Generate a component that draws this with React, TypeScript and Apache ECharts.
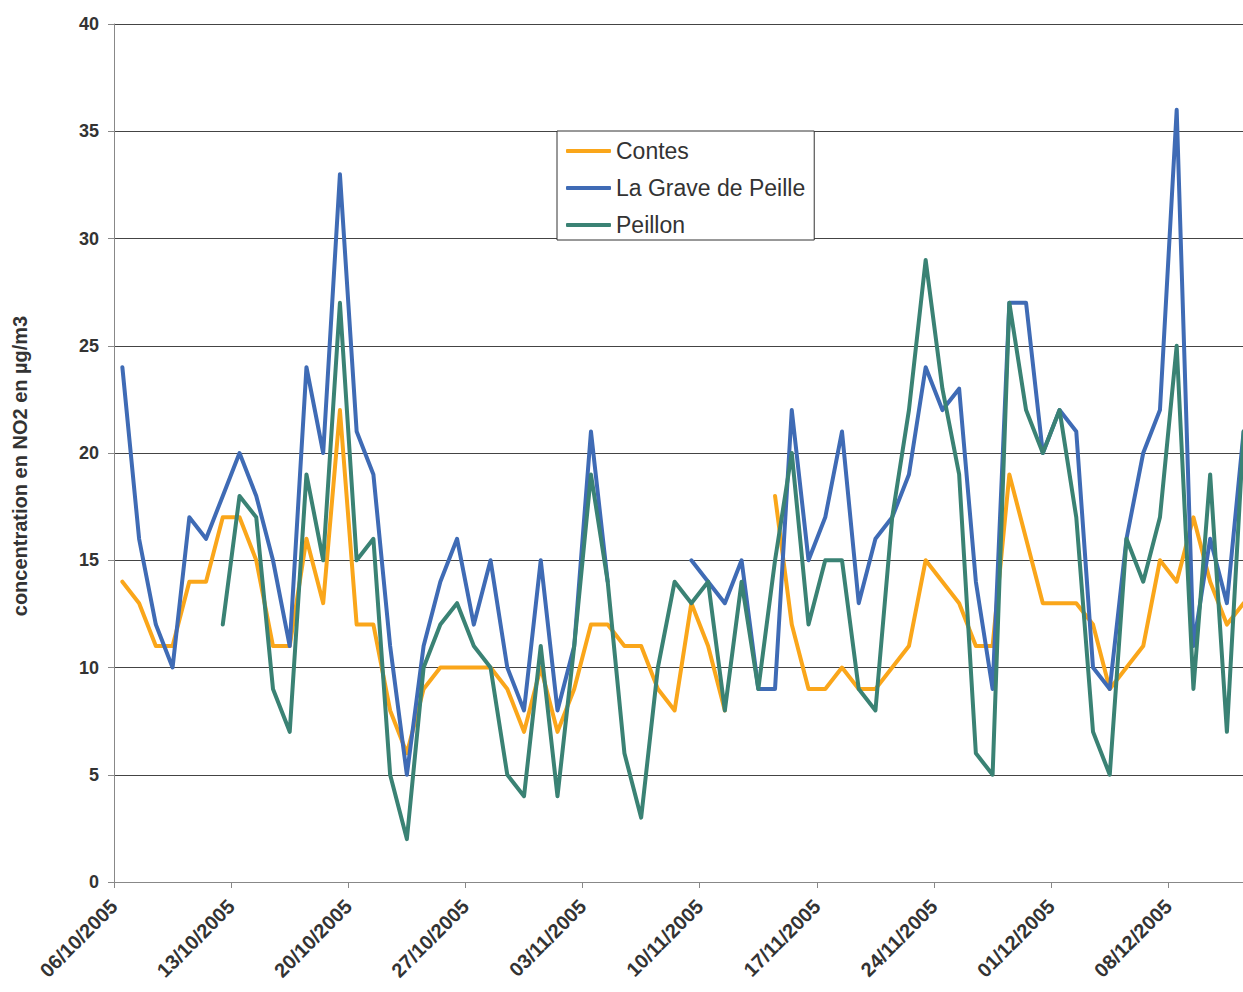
import React, { useEffect, useRef } from "react";
import * as echarts from "echarts";

// Weekly tick labels (one every 7 days, starting 06/10/2005)
const tickLabels = [
  "06/10/2005", "13/10/2005", "20/10/2005", "27/10/2005", "03/11/2005",
  "10/11/2005", "17/11/2005", "24/11/2005", "01/12/2005", "08/12/2005",
];

// Daily NO2 concentrations (µg/m3), 06/10/2005 .. 12/12/2005 (68 days)
const contes = [
  14, 13, 11, 11, 14, 14, 17, 17, 15, 11, 11, 16, 13, 22, 12, 12, 8, 6, 9, 10,
  10, 10, 10, 9, 7, 10, 7, 9, 12, 12, 11, 11, 9, 8, 13, 11, 8, null, null, 18,
  12, 9, 9, 10, 9, 9, 10, 11, 15, 14, 13, 11, 11, 19, 16, 13, 13, 13, 12, 9,
  10, 11, 15, 14, 17, 14, 12, 13,
];
const graveDePeille = [
  24, 16, 12, 10, 17, 16, 18, 20, 18, 15, 11, 24, 20, 33, 21, 19, 11, 5, 11, 14,
  16, 12, 15, 10, 8, 15, 8, 11, 21, 14, null, null, null, null, 15, 14, 13, 15, 9, 9,
  22, 15, 17, 21, 13, 16, 17, 19, 24, 22, 23, 14, 9, 27, 27, 20, 22, 21, 10, 9,
  16, 20, 22, 36, 11, 16, 13, 21,
];
const peillon = [
  null, null, null, null, null, null, 12, 18, 17, 9, 7, 19, 15, 27, 15, 16, 5, 2, 10, 12,
  13, 11, 10, 5, 4, 11, 4, 11, 19, 14, 6, 3, 10, 14, 13, 14, 8, 14, 9, 15,
  20, 12, 15, 15, 9, 8, 17, 22, 29, 23, 19, 6, 5, 27, 22, 20, 22, 17, 7, 5,
  16, 14, 17, 25, 9, 19, 7, 21,
];

const seriesNames = ["Contes", "La Grave de Peille", "Peillon"];
const seriesColors = ["#FAA61A", "#3F6BB5", "#3A8274"];

const toPoints = (arr: (number | null)[]) =>
  arr.map((v, i) => [i + 0.5, v === null ? "-" : v]);

export default function App() {
  const ref = useRef<HTMLDivElement>(null);

  useEffect(() => {
    if (!ref.current) return;
    const chart = echarts.init(ref.current, null, { renderer: "svg" });
    const font = "'Liberation Sans', Arial, Helvetica, sans-serif";
    const dataSets = [contes, graveDePeille, peillon];

    chart.setOption({
      animation: false,
      backgroundColor: "#ffffff",
      textStyle: { fontFamily: font },
      grid: { left: 114, right: 10, top: 24, bottom: 110, containLabel: false },
      legend: {
        orient: "vertical",
        left: 557,
        top: 131,
        padding: [7, 9, 2, 9],
        itemGap: 11,
        itemWidth: 45,
        itemHeight: 4,
        icon: "roundRect",
        backgroundColor: "#ffffff",
        borderColor: "#333333",
        borderWidth: 1,
        borderRadius: 0,
        textStyle: {
          fontFamily: font,
          fontSize: 23,
          color: "#333333",
          lineHeight: 26,
        },
        data: seriesNames,
      },
      xAxis: {
        type: "value",
        min: 0,
        max: 68,
        interval: 7,
        splitLine: { show: false },
        axisLine: { show: true, lineStyle: { color: "#888888", width: 1 } },
        axisTick: { show: true, length: 6, lineStyle: { color: "#888888" } },
        axisLabel: {
          rotate: 45,
          margin: 21,
          fontFamily: font,
          fontSize: 20,
          fontWeight: "bold",
          color: "#333333",
          showMaxLabel: false,
          formatter: (v: number) => {
            const k = Math.round(v / 7);
            return Math.abs(v - k * 7) < 1e-6 && k < tickLabels.length ? tickLabels[k] : "";
          },
        },
      },
      yAxis: {
        type: "value",
        min: 0,
        max: 40,
        interval: 5,
        axisLine: { show: true, lineStyle: { color: "#888888", width: 1 } },
        axisTick: { show: true, length: 6, lineStyle: { color: "#888888" } },
        splitLine: { show: true, lineStyle: { color: "#444444", width: 1 } },
        axisLabel: {
          margin: 15,
          fontFamily: font,
          fontSize: 18,
          fontWeight: "bold",
          color: "#333333",
        },
      },
      graphic: [
        {
          type: "text",
          x: 20,
          y: 466,
          rotation: Math.PI / 2,
          style: {
            text: "concentration en NO2 en µg/m3",
            fontFamily: font,
            fontSize: 20,
            fontWeight: "bold",
            fill: "#333333",
            align: "center",
            verticalAlign: "middle",
          },
        },
      ],
      series: seriesNames.map((name, k) => ({
        name,
        type: "line",
        data: toPoints(dataSets[k]),
        showSymbol: false,
        symbol: "none",
        connectNulls: false,
        color: seriesColors[k],
        lineStyle: { color: seriesColors[k], width: 4, cap: "round", join: "round" },
        z: 2 + k,
      })),
    });

    return () => chart.dispose();
  }, []);

  return (
    <div
      style={{
        position: "absolute",
        left: 0,
        top: 0,
        width: 1243,
        height: 992,
        overflow: "hidden",
        background: "#fff",
      }}
    >
      <div ref={ref} style={{ width: 1262, height: 992 }} />
    </div>
  );
}
